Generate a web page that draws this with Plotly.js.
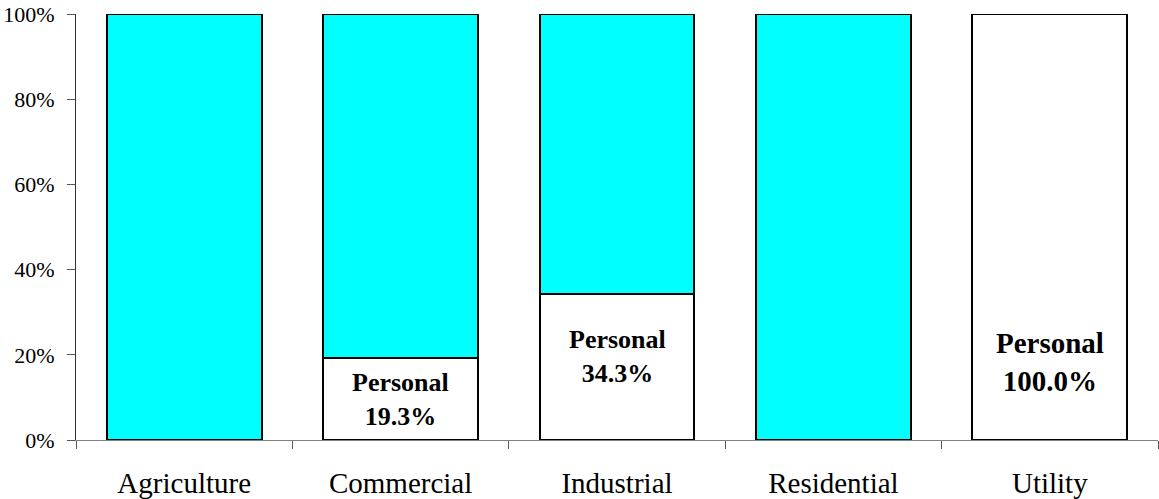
<!DOCTYPE html>
<html><head><meta charset="utf-8">
<script src="https://cdn.plot.ly/plotly-3.0.1.min.js"></script>
<style>html,body{margin:0;padding:0;background:#fff}#chart{width:1159px;height:499px}</style>
</head><body><div id="chart"></div>
<script>
const categories = ["Agriculture", "Commercial", "Industrial", "Residential", "Utility"];
const personal = [0, 19.3, 34.3, 0, 100];
const other = [100, 80.7, 65.7, 100, 0];
const yTickVals = [0, 20, 40, 60, 80, 100];
const yTickText = ["0%", "20%", "40%", "60%", "80%", "100%"];
const labelY = [null, 9.6, 19.5, null, 18.3];
const labelSize = [26, 26, 26, 26, 29];

const serif = "'Liberation Serif', 'Times New Roman', serif";
const traces = [
  {type: "bar", name: "Personal", x: categories, y: personal,
   marker: {color: "#ffffff", line: {color: "#000000", width: 2}}, hoverinfo: "skip"},
  {type: "bar", name: "Other", x: categories, y: other,
   marker: {color: "#00ffff", line: {color: "#000000", width: 2}}, hoverinfo: "skip"}
];
const annotations = [];
categories.forEach((c, i) => {
  if (personal[i] > 0) {
    annotations.push({x: c, y: labelY[i], xref: "x", yref: "y", showarrow: false,
      text: "<b>Personal<br>" + personal[i].toFixed(1) + "%</b>",
      font: {family: serif, size: labelSize[i], color: "#000"}});
  }
});
const layout = {
  width: 1159, height: 499, barmode: "stack", bargap: 0.284, showlegend: false,
  margin: {l: 76, r: 1, t: 14, b: 59},
  paper_bgcolor: "#fff", plot_bgcolor: "#fff",
  font: {family: serif, color: "#000", size: 22},
  xaxis: {type: "category", showgrid: false, showline: true, linecolor: "#808080", linewidth: 1,
    ticks: "outside", tickson: "boundaries", ticklen: 8, tickcolor: "#555", tickwidth: 1,
    ticklabelstandoff: 17,
    tickfont: {family: serif, size: 29, color: "#000"}},
  yaxis: {range: [0, 100], tickmode: "array", tickvals: yTickVals, ticktext: yTickText,
    showgrid: false, zeroline: false, showline: true, linecolor: "#333", linewidth: 1,
    ticks: "outside", ticklen: 8, tickcolor: "#555", tickwidth: 1,
    ticklabelstandoff: 8,
    tickfont: {family: serif, size: 22, color: "#000"}},
  annotations: annotations
};
Plotly.newPlot("chart", traces, layout, {displayModeBar: false, staticPlot: true});
</script></body></html>
